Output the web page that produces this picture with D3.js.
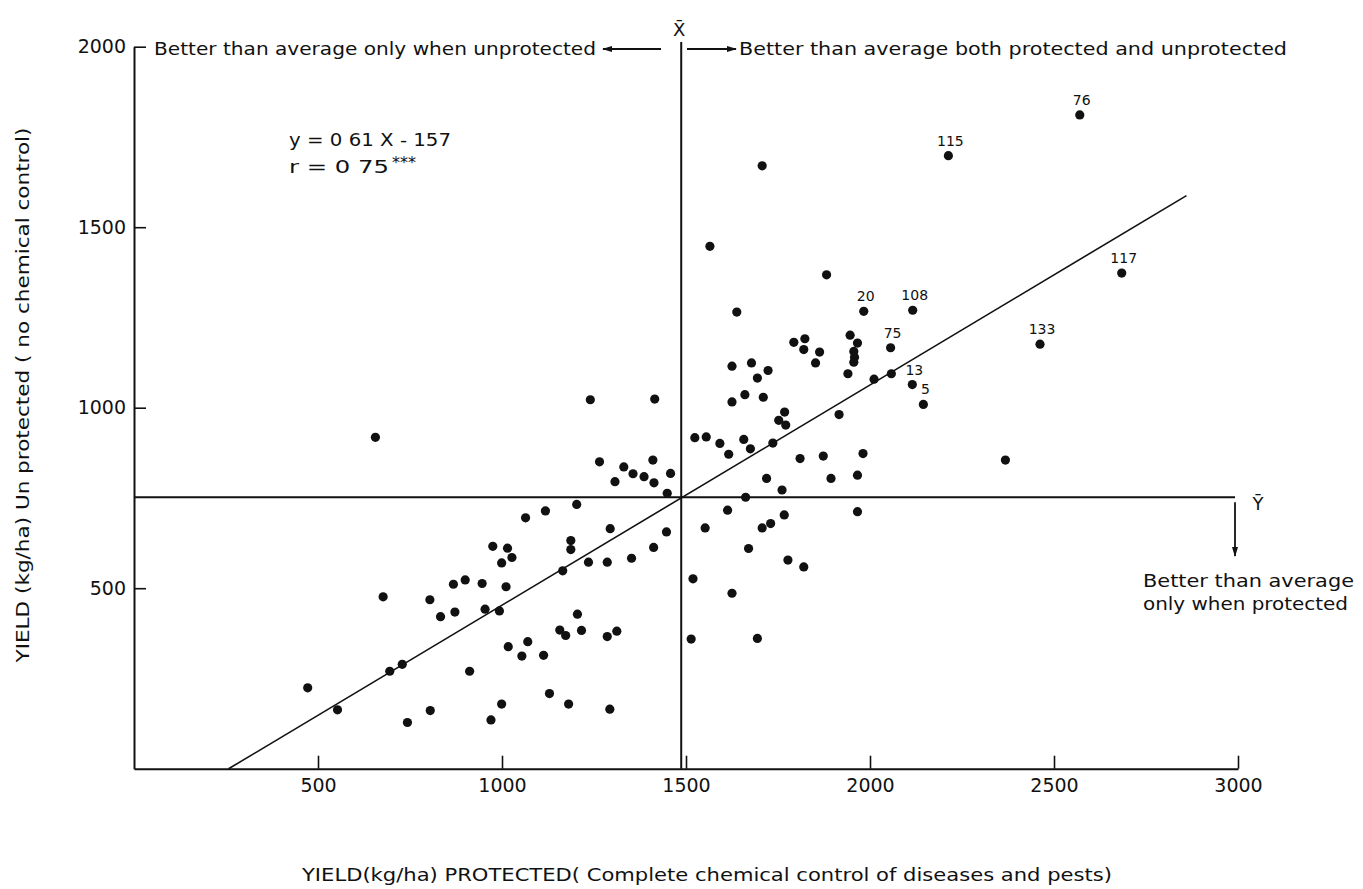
<!DOCTYPE html>
<html>
<head>
<meta charset="utf-8">
<script src="https://cdn.jsdelivr.net/npm/d3@7"></script>
<style>
  body { margin: 0; background: #fff; }
  svg text { font-family: "DejaVu Sans", sans-serif; fill: #111; }
</style>
</head>
<body>
<svg id="chart" width="1363" height="889"></svg>
<script>
// yield protected (x) / unprotected (y), kg/ha
const protectedYield = [
  975, 1015, 999, 1027, 1187, 1187, 1412, 1352, 1286, 1235, 1165, 677, 804, 868, 900, 946,
  1011, 833, 872, 954, 993, 1205, 1157, 1173, 1216, 1286, 1312, 1070, 1017, 1054, 1113, 912,
  695, 729, 472, 553, 743, 805, 970, 999, 1129, 1181, 1293, 656, 1240, 1415, 1265, 1331,
  1356, 1386, 1410, 1413, 1458, 1307, 1449, 1203, 1118, 1064, 1294, 1447,
  1638, 1793, 1823, 1820, 1863, 1852, 1946, 1966, 1956, 1958, 1956, 1940, 2011, 2058, 1625, 1678,
  1723, 1694, 1625, 1660, 1710, 1768, 1752, 1771, 1916, 1524, 1555, 1592, 1657, 1616, 1675, 1736,
  1810, 1873, 1981, 2368, 1719, 1761, 1894, 1966, 1662, 1613, 1552, 1707, 1730, 1767, 1966, 1670,
  1777, 1820, 1519, 1625, 1514, 1694, 1707, 1565, 1882
];
const unprotectedYield = [
  616, 611, 570, 585, 632, 607, 613, 583, 572, 572, 548, 476, 468, 511, 523, 513,
  504, 421, 434, 442, 437, 428, 384, 369, 383, 366, 381, 352, 338, 312, 314, 270,
  270, 289, 224, 163, 128, 161, 135, 179, 208, 179, 165, 918, 1022, 1024, 850, 836,
  817, 809, 855, 792, 818, 795, 763, 732, 714, 695, 665, 656,
  1265, 1181, 1191, 1161, 1154, 1124, 1201, 1179, 1156, 1140, 1126, 1094, 1079, 1094, 1115, 1124,
  1103, 1082, 1016, 1036, 1029, 988, 965, 952, 981, 917, 919, 901, 912, 871, 886, 902,
  859, 866, 873, 855, 804, 772, 804, 813, 752, 716, 667, 667, 679, 703, 712, 610,
  578, 559, 526, 486, 359, 361, 1670, 1447, 1368
];

// numbered entries
const labelNames = ["76", "115", "117", "20", "108", "75", "13", "5", "133"];
const labelProtected = [2570, 2213, 2684, 1983, 2116, 2056, 2115, 2145, 2462];
const labelUnprotected = [1811, 1698, 1373, 1267, 1270, 1166, 1064, 1009, 1176];

const xTicks = [500, 1000, 1500, 2000, 2500, 3000];
const yTicks = [500, 1000, 1500, 2000];

const meanProtected = 1487;
const meanUnprotected = 752;
const slope = 0.61, intercept = -157;
const fitFrom = 257, fitTo = 2860;

const svg = d3.select("#chart");

const x = d3.scaleLinear().domain([0, 3000]).range([134, 1238]);
const y = d3.scaleLinear().domain([0, 2000]).range([768.7, 46.7]);

// arrow heads
const defs = svg.append("defs");
defs.append("marker")
  .attr("id", "head")
  .attr("viewBox", "0 0 10 6")
  .attr("refX", 9).attr("refY", 3)
  .attr("markerWidth", 10).attr("markerHeight", 6)
  .attr("markerUnits", "userSpaceOnUse")
  .attr("orient", "auto")
  .append("path")
  .attr("d", "M0,0 L10,3 L0,6 Z")
  .attr("fill", "#111");

// axes
const xAxis = svg.append("g")
  .attr("transform", `translate(0,${y(0)})`)
  .call(d3.axisBottom(x).tickValues(xTicks).tickFormat(d3.format("d"))
    .tickSizeInner(-13).tickSizeOuter(0).tickPadding(10));
const yAxis = svg.append("g")
  .attr("transform", `translate(${x(0)},0)`)
  .call(d3.axisLeft(y).tickValues(yTicks).tickFormat(d3.format("d"))
    .tickSizeInner(-12).tickSizeOuter(0).tickPadding(8));

[xAxis, yAxis].forEach(a => {
  a.select(".domain").attr("stroke", "#111").attr("stroke-width", 2);
  a.selectAll(".tick line").attr("stroke", "#111").attr("stroke-width", 1.6);
  a.selectAll(".tick text")
    .attr("fill", "#111")
    .style("font-family", "'DejaVu Sans', sans-serif")
    .style("font-size", "19px");
});

// mean lines
svg.append("line")
  .attr("x1", x(meanProtected)).attr("x2", x(meanProtected))
  .attr("y1", 42).attr("y2", y(0))
  .attr("stroke", "#111").attr("stroke-width", 2);
svg.append("line")
  .attr("x1", x(0)).attr("x2", x(3000) - 3)
  .attr("y1", y(meanUnprotected)).attr("y2", y(meanUnprotected))
  .attr("stroke", "#111").attr("stroke-width", 2.2);

// regression line
svg.append("path")
  .datum([fitFrom, fitTo])
  .attr("d", d3.line().x(d => x(d)).y(d => y(slope * d + intercept)))
  .attr("fill", "none")
  .attr("stroke", "#111")
  .attr("stroke-width", 1.6);

// points
svg.append("g")
  .selectAll("circle")
  .data(protectedYield.map((d, i) => [d, unprotectedYield[i]]))
  .join("circle")
  .attr("cx", d => x(d[0]))
  .attr("cy", d => y(d[1]))
  .attr("r", 4.6)
  .attr("fill", "#111");

const labelled = svg.append("g")
  .selectAll("g")
  .data(labelNames.map((n, i) => ({ n, px: labelProtected[i], py: labelUnprotected[i] })))
  .join("g");
labelled.append("circle")
  .attr("cx", d => x(d.px))
  .attr("cy", d => y(d.py))
  .attr("r", 4.6)
  .attr("fill", "#111");
labelled.append("text")
  .attr("x", d => x(d.px) + 2)
  .attr("y", d => y(d.py) - 10)
  .attr("text-anchor", "middle")
  .style("font-size", "14px")
  .text(d => d.n);

// annotations
const note = (txt, x0, yb, size, len) => {
  const t = svg.append("text")
    .attr("x", x0).attr("y", yb)
    .style("font-size", size + "px")
    .text(txt);
  if (len) t.attr("textLength", len).attr("lengthAdjust", "spacingAndGlyphs");
  return t;
};

note("Better than average only when  unprotected", 154, 55, 18, 442);
note("Better than average both  protected and unprotected", 739, 55, 18, 548);

svg.append("line")
  .attr("x1", 661).attr("x2", 603).attr("y1", 49).attr("y2", 49)
  .attr("stroke", "#111").attr("stroke-width", 2).attr("marker-end", "url(#head)");
svg.append("line")
  .attr("x1", 687).attr("x2", 736).attr("y1", 49).attr("y2", 49)
  .attr("stroke", "#111").attr("stroke-width", 2).attr("marker-end", "url(#head)");

svg.append("text")
  .attr("x", x(meanProtected) - 2).attr("y", 36)
  .attr("text-anchor", "middle")
  .style("font-size", "18px")
  .text("X\u0304");

svg.append("text")
  .attr("x", 1258).attr("y", 510)
  .attr("text-anchor", "middle")
  .style("font-size", "18px")
  .text("Y\u0304");

svg.append("line")
  .attr("x1", x(3000) - 3).attr("x2", x(3000) - 3)
  .attr("y1", y(meanUnprotected) + 5).attr("y2", 556)
  .attr("stroke", "#111").attr("stroke-width", 1.8).attr("marker-end", "url(#head)");

note("Better than average", 1143, 587, 18, 211);
note("only when protected", 1143, 610, 18, 205);

note("y = 0 61 X - 157", 289, 146, 18, 162);
note("r = 0 75", 289, 173, 18, 100);
svg.append("text").attr("x", 392).attr("y", 168)
  .style("font-size", "16px").text("***");

// axis titles
svg.append("text")
  .attr("transform", "translate(29,395) rotate(-90)")
  .attr("text-anchor", "middle")
  .attr("textLength", 535).attr("lengthAdjust", "spacingAndGlyphs")
  .style("font-size", "18px")
  .text("YIELD (kg/ha) Un protected ( no chemical control)");

svg.append("text")
  .attr("x", 707).attr("y", 881)
  .attr("text-anchor", "middle")
  .attr("textLength", 810).attr("lengthAdjust", "spacingAndGlyphs")
  .style("font-size", "18px")
  .text("YIELD(kg/ha) PROTECTED( Complete chemical control of  diseases and pests)");
</script>
</body>
</html>
